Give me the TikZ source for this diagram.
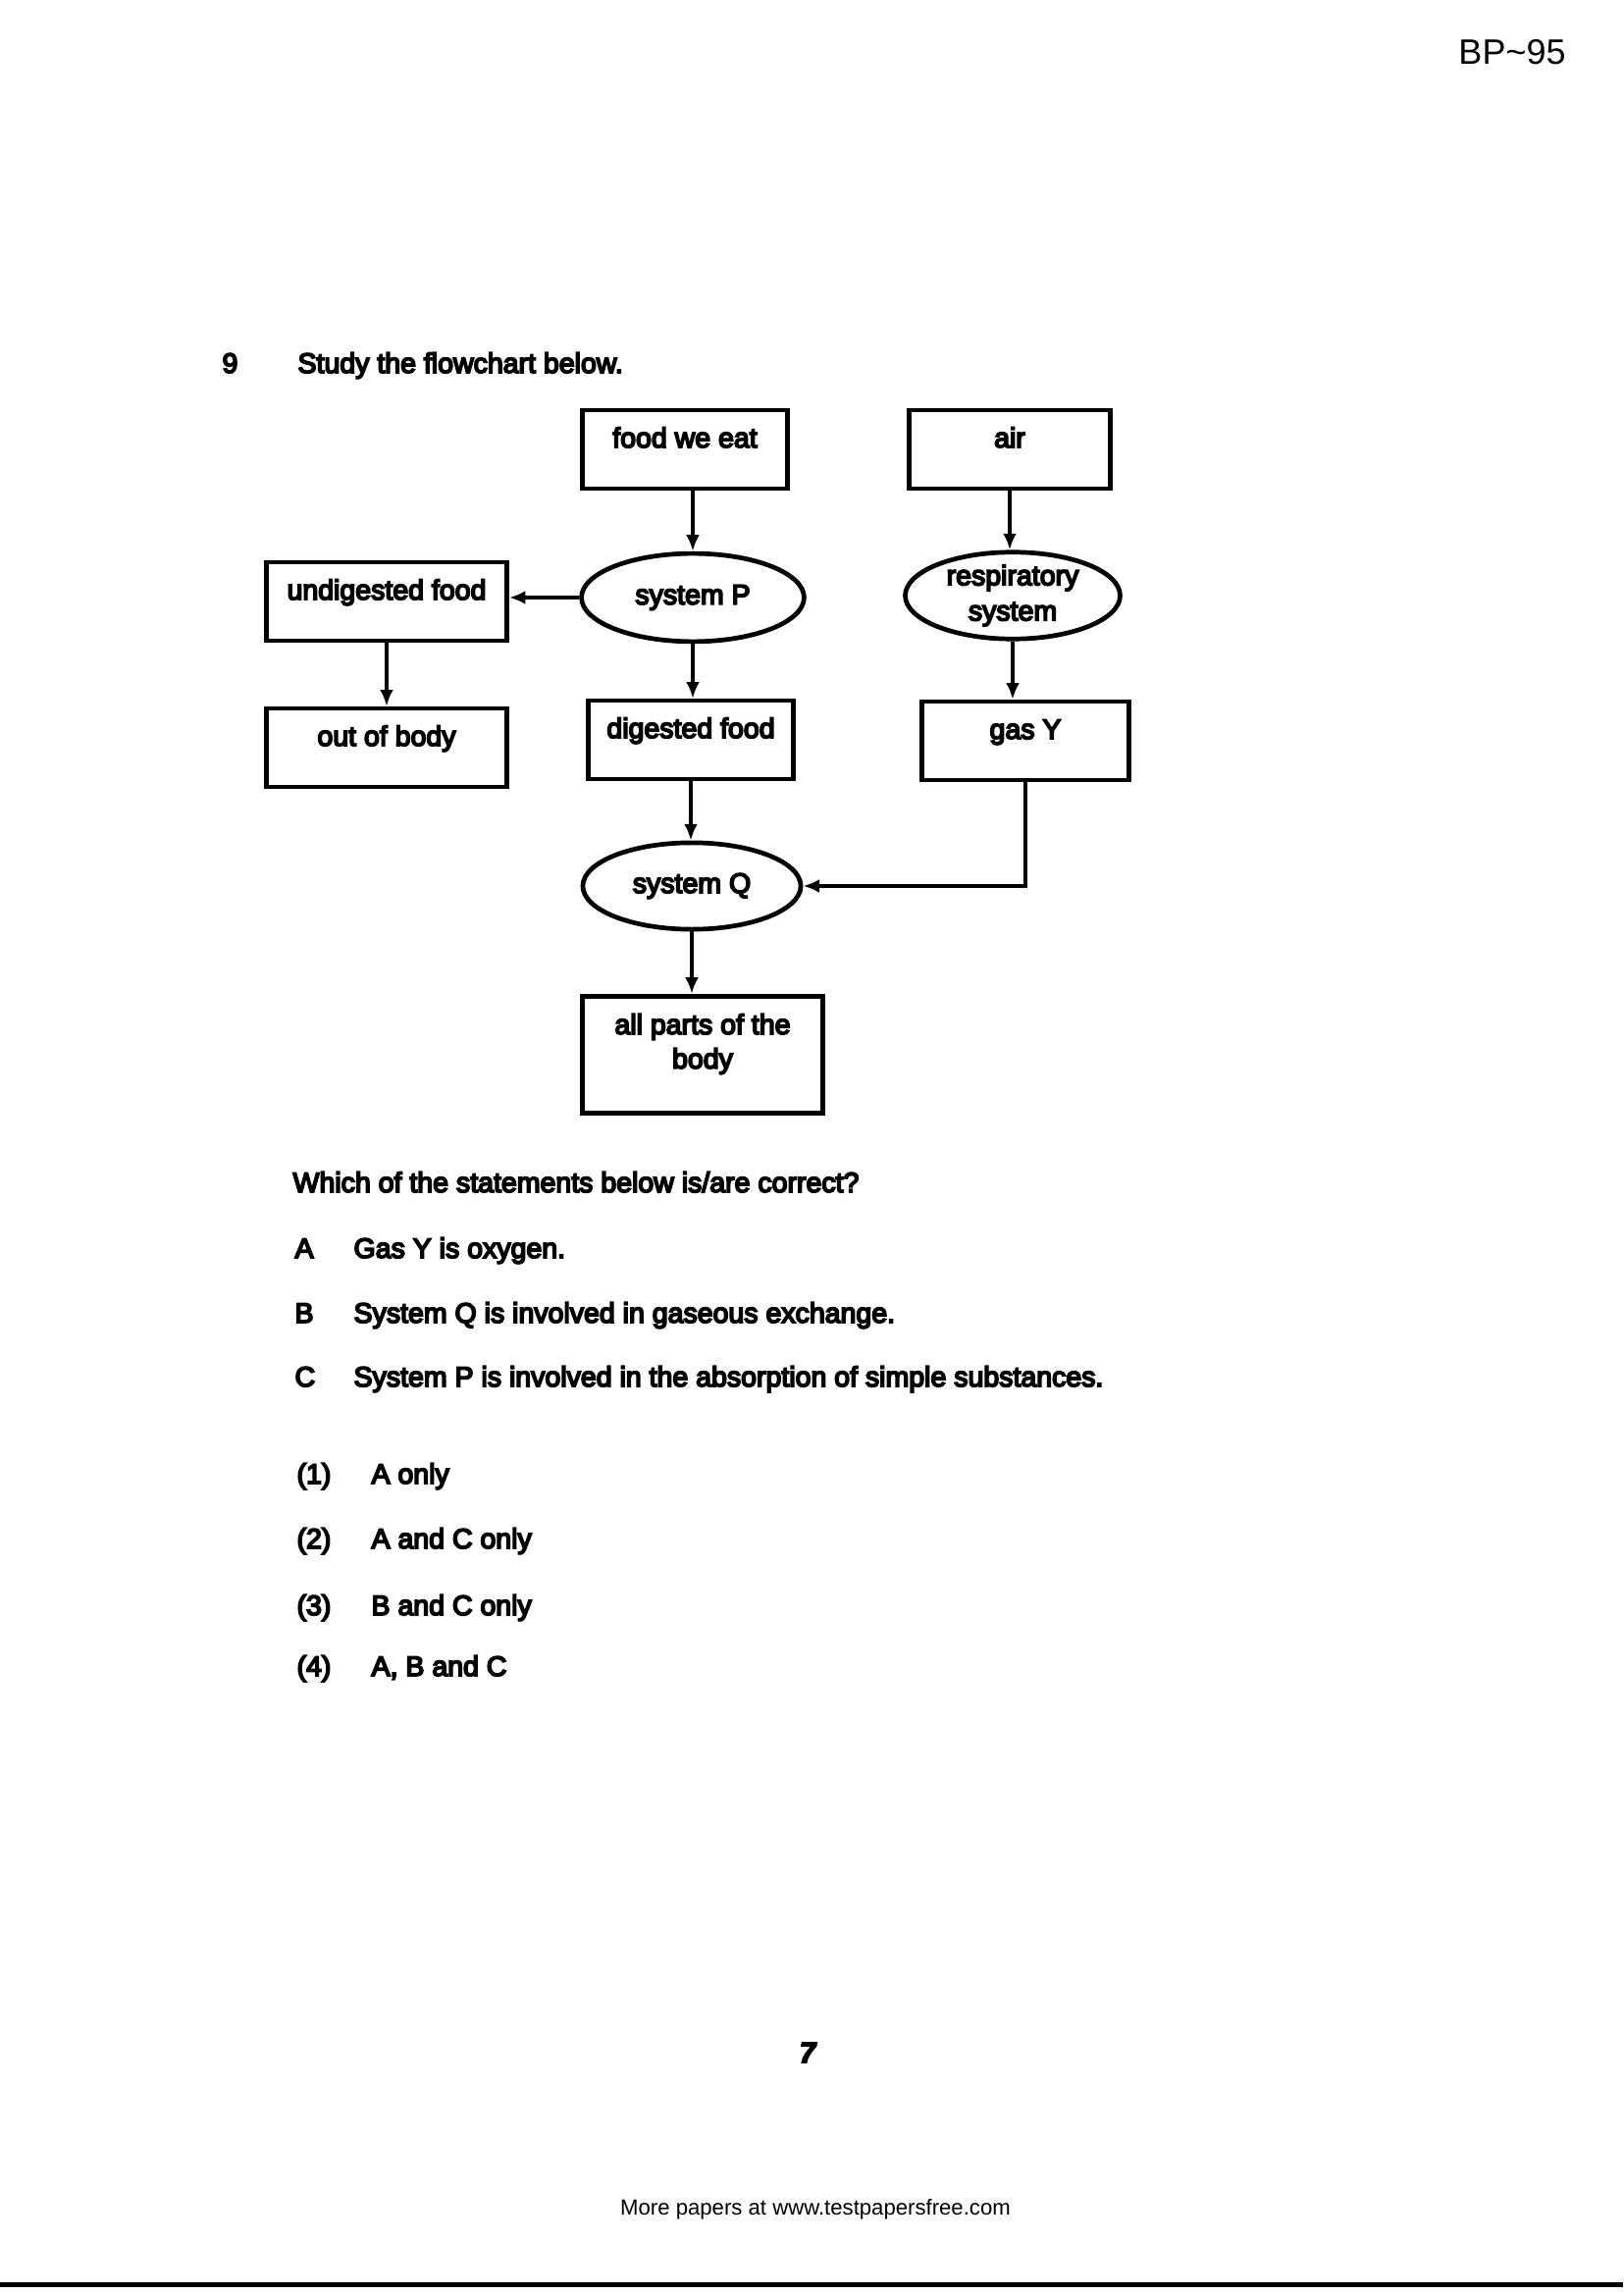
\documentclass[tikz,border=0pt]{standalone}
\usepackage{fontspec}
\setmainfont{Liberation Sans}
\newfontfamily\scanfont[FakeBold=6]{Liberation Sans}
\usetikzlibrary{shapes.geometric,arrows.meta}
\newcommand{\scantext}{\scanfont\fontsize{10.3}{13}\selectfont}

\begin{document}
\begin{tikzpicture}[x=0.0127cm, y=-0.0127cm,
    box/.style={draw, line width=1.7pt, inner sep=0pt, text height=13.7pt, text depth=15.1pt, font=\scantext},
    oval/.style={draw, ellipse, line width=1.7pt, inner sep=0pt, align=center, font=\scantext},
    flow/.style={-{Latex[length=6pt,width=5pt]}, line width=1.4pt},
    txt/.style={anchor=base west, inner sep=0pt, font=\scantext}]
  \useasboundingbox (0,0) rectangle (1654,2338);
  \node [anchor=base, inner sep=0pt, font=\fontsize{13}{15}\selectfont] (code) at (1541, 66) {BP\textasciitilde 95};
  \node [txt] (num) at (226, 380) {9};
  \node [txt] (task) at (303, 380) {Study the flowchart below.};
  % flowchart
  \node [box, minimum width=2.65cm] (food) at (698, 458) {food we eat};
  \node [box, minimum width=2.60cm] (air) at (1029, 458) {air};
  \node [oval, minimum width=2.88cm, minimum height=1.14cm] (p) at (706, 609) {system P};
  \node [oval, minimum width=2.78cm, minimum height=1.11cm] (resp) at (1032, 607) {respiratory\\system};
  \node [box, minimum width=3.11cm] (undig) at (394, 613) {undigested food};
  \node [box, minimum width=3.11cm] (out) at (394, 762) {out of body};
  \node [box, minimum width=2.65cm] (dig) at (704, 754) {digested food};
  \node [box, minimum width=2.68cm] (gas) at (1045, 755) {gas Y};
  \node [oval, minimum width=2.82cm, minimum height=1.12cm] (q) at (705, 903) {system Q};
  \node [box, align=center, minimum width=3.11cm, text height=26.6pt, text depth=16.6pt,
    font=\scanfont\fontsize{10.3}{12.6}\selectfont] (all) at (716, 1075) {all parts of the\\body};
  \draw [flow] (food.south -| p) to (p);
  \draw [flow] (air) to (air |- resp.north);
  \draw [flow] (p) to (p -| undig.east);
  \draw [flow] (undig) to (out);
  \draw [flow] (p) to (p |- dig.north);
  \draw [flow] (resp) to (resp |- gas.north);
  \draw [flow] (dig) to (dig |- q.north);
  \draw [flow] (gas) |- (q);
  \draw [flow] (q) to (q |- all.north);
  % question
  \node [txt] (ask) at (298, 1215) {Which of the statements below is/are correct?};
  \node [txt] (la) at (300, 1282) {A};
  \node [txt] (sa) at (360, 1282) {Gas Y is oxygen.};
  \node [txt] (lb) at (300, 1348) {B};
  \node [txt] (sb) at (360, 1348) {System Q is involved in gaseous exchange.};
  \node [txt] (lc) at (300, 1413) {C};
  \node [txt] (sc) at (360, 1413) {System P is involved in the absorption of simple substances.};
  \node [txt] (o1) at (302, 1512) {(1)};
  \node [txt] (a1) at (378, 1512) {A only};
  \node [txt] (o2) at (302, 1578) {(2)};
  \node [txt] (a2) at (378, 1578) {A and C only};
  \node [txt] (o3) at (302, 1646) {(3)};
  \node [txt] (a3) at (378, 1646) {B and C only};
  \node [txt] (o4) at (302, 1708) {(4)};
  \node [txt] (a4) at (378, 1708) {A, B and C};
  \node [anchor=base, inner sep=0pt, font=\scanfont\bfseries\itshape\fontsize{10.5}{12}\selectfont] (page) at (823, 2102) {7};
  \node [anchor=base, inner sep=0pt, font=\fontsize{8}{10}\selectfont] (foot) at (831, 2257) {More papers at www.testpapersfree.com};
  \draw [line width=1.8pt] (0, 2328) -- (1654, 2328);
\end{tikzpicture}
\end{document}
